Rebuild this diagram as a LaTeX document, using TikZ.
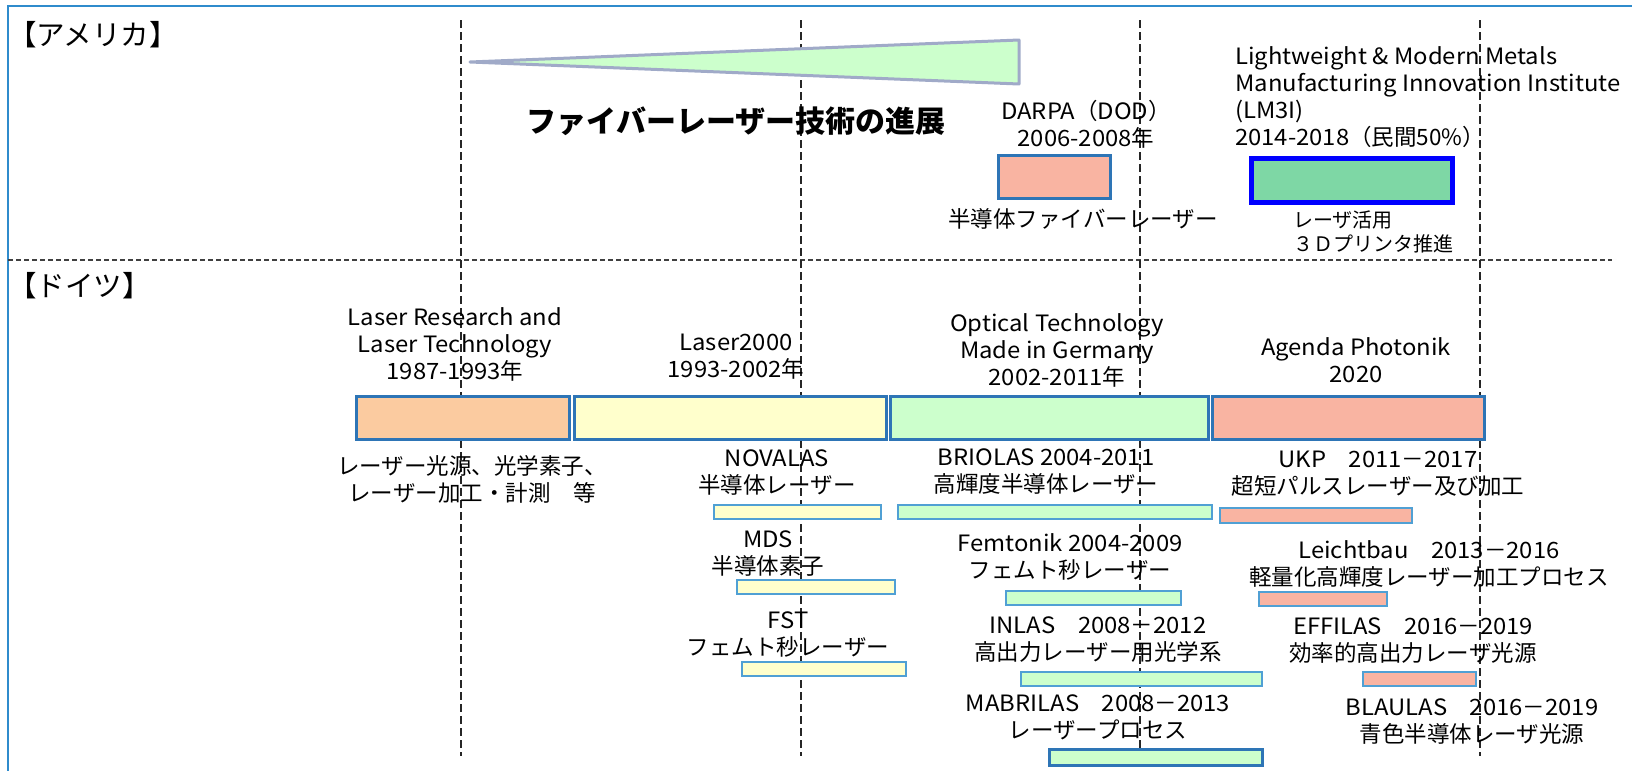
\documentclass[tikz,border=0pt]{standalone}
\usepackage{fontspec}
\setmainfont{Noto Sans CJK JP}
\newfontfamily\lat{Noto Sans CJK JP}[FakeStretch=1.06]
\definecolor{framecol}{RGB}{47,139,204}
\definecolor{barline}{RGB}{46,117,182}
\definecolor{thinline}{RGB}{80,160,212}
\definecolor{peach}{RGB}{251,203,160}
\definecolor{lyellow}{RGB}{255,255,204}
\definecolor{lgreen}{RGB}{204,255,204}
\definecolor{salmon}{RGB}{249,180,162}
\definecolor{mgreen}{RGB}{126,215,165}
\definecolor{triline}{RGB}{160,170,200}
\tikzset{
  lbl/.style={inner sep=0pt, align=center, font=\fontsize{22.5}{27}\selectfont},
  lbll/.style={lbl, align=left},
  headlbl/.style={inner sep=0pt, font=\fontsize{28.5}{32}\selectfont},
  smalllbl/.style={inner sep=0pt, align=left, font=\fontsize{20}{24}\selectfont},
  titlelbl/.style={inner sep=0pt, font=\fontsize{30}{34}\selectfont\bfseries},
  bigbar/.style={draw=barline, line width=3pt, inner sep=0pt},
  smallbar/.style={draw=thinline, line width=1.5pt, inner sep=0pt},
  boldbar/.style={draw=barline, line width=3pt, inner sep=0pt},
  lmbar/.style={draw=blue, line width=5pt, inner sep=0pt},
  vdash/.style={black!85, line width=1.1pt, dash pattern=on 8pt off 4pt},
  hdash/.style={black!75, line width=1.1pt, dash pattern=on 5pt off 3pt},
}
\newcommand\mybox[6]{\node[#6, minimum width={(#4)-(#2)}, minimum height={(#5)-(#3)}] (#1) at ({((#2)+(#4))/2},{((#3)+(#5))/2}) {};}
\begin{document}
\begin{tikzpicture}[x=1pt,y=-1pt]
\useasboundingbox (0,0) rectangle (1636,771);
% frame
\draw[framecol, line width=2.5pt] (8,771) -- (8,6) -- (1632,6);
% dashed guides
\draw[hdash] (8,260) -- (1612,260);
\foreach \xx in {461,801,1140,1480} {\draw[vdash] (\xx,20) -- (\xx,756);}
% triangle
\draw[triline, line width=3pt, fill=lgreen, line join=round] (470,62) -- (1019,40) -- (1019,84) -- cycle;
% USA
\node[headlbl, anchor=west] (usa) at (8,35) {【アメリカ】};
\node[titlelbl] (title) at (736,121) {ファイバーレーザー技術の進展};
\node[lbl] (darpat) at (1086,124) {{\lat DARPA}（{\lat DOD}）\\{\lat 2006-2008}年};
\mybox{darpa}{998}{155}{1110}{198}{bigbar, fill=salmon}
\node[lbl] (darpad) at (1083,219) {半導体ファイバーレーザー};
\node[lbll, anchor=west] (lmt) at (1235,97) {{\lat Lightweight \& Modern Metals}\\{\lat Manufacturing Innovation Institute}\\{\lat (LM3I)}\\{\lat 2014-2018}（民間50\%）};
\mybox{lm}{1251}{158}{1452}{202}{lmbar, fill=mgreen}
\node[smalllbl, anchor=west] (lmd) at (1293,232) {レーザ活用\\３Ｄプリンタ推進};
% Germany
\node[headlbl, anchor=west] (ger) at (8,286) {【ドイツ】};
\node[lbl] (g1) at (455,344) {{\lat Laser Research and}\\{\lat Laser Technology}\\{\lat 1987-1993}年};
\node[lbl] (g2) at (736,357) {{\lat Laser2000}\\{\lat 1993-2002}年};
\node[lbl] (g3) at (1057,350) {{\lat Optical Technology}\\{\lat Made in Germany}\\{\lat 2002-2011}年};
\node[lbl] (g4) at (1356,360) {{\lat Agenda Photonik}\\{\lat 2020}};
\mybox{b1}{356}{396}{569}{439}{bigbar, fill=peach}
\mybox{b2}{574}{396}{886}{439}{bigbar, fill=lyellow}
\mybox{b3}{890}{396}{1208}{439}{bigbar, fill=lgreen}
\mybox{b4}{1212}{396}{1484}{439}{bigbar, fill=salmon}
% sub labels
\node[lbl] (d1) at (472,479) {レーザー光源、光学素子、\\レーザー加工・計測　等};
\node[lbl] (novt) at (777,473) {{\lat NOVALAS}\\半導体レーザー};
\node[lbl] (brit) at (1046,472) {{\lat BRIOLAS 2004-2011}\\高輝度半導体レーザー};
\node[lbl] (ukpt) at (1378,474) {{\lat UKP}　{\lat 2011}－{\lat 2017}\\超短パルスレーザー及び加工};
\node[lbl] (mdst) at (768,554) {{\lat MDS}\\半導体素子};
\node[lbl] (femt) at (1070,557) {{\lat Femtonik 2004-2009}\\フェムト秒レーザー};
\node[lbl] (leit) at (1429,564) {{\lat Leichtbau}　{\lat 2013}－{\lat 2016}\\軽量化高輝度レーザー加工プロセス};
\node[lbl] (fstt) at (788,634) {{\lat FST}\\フェムト秒レーザー};
\node[lbl] (inlt) at (1098,640) {{\lat INLAS}　{\lat 2008}－{\lat 2012}\\高出力レーザー用光学系};
\node[lbl] (efft) at (1413,641) {{\lat EFFILAS}　{\lat 2016}－{\lat 2019}\\効率的高出力レーザ光源};
\node[lbl] (mabt) at (1098,717) {{\lat MABRILAS}　{\lat 2008}－{\lat 2013}\\レーザープロセス};
\node[lbl] (blat) at (1472,722) {{\lat BLAULAS}　{\lat 2016}－{\lat 2019}\\青色半導体レーザ光源};
% small bars
\mybox{nov}{714}{505}{881}{519}{smallbar, fill=lyellow}
\mybox{bri}{898}{505}{1212}{519}{smallbar, fill=lgreen}
\mybox{ukp}{1220}{508}{1412}{523}{smallbar, fill=salmon}
\mybox{mds}{737}{580}{895}{594}{smallbar, fill=lyellow}
\mybox{fem}{1006}{591}{1181}{605}{smallbar, fill=lgreen}
\mybox{lei}{1259}{592}{1387}{606}{smallbar, fill=salmon}
\mybox{fst}{742}{662}{906}{676}{smallbar, fill=lyellow}
\mybox{inl}{1021}{672}{1262}{686}{smallbar, fill=lgreen}
\mybox{eff}{1363}{672}{1476}{686}{smallbar, fill=salmon}
\mybox{mab}{1049}{749}{1262}{765}{boldbar, fill=lgreen}
\end{tikzpicture}
\end{document}
